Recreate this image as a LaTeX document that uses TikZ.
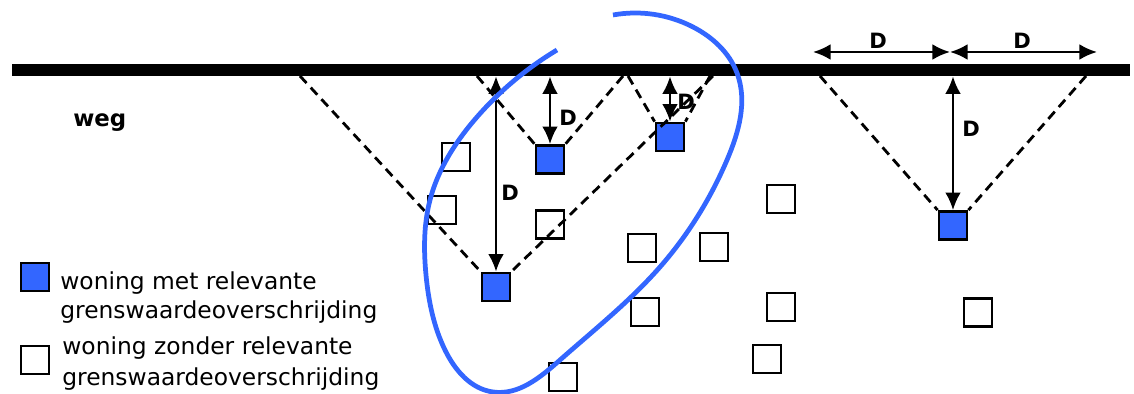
\documentclass[tikz,border=0pt]{standalone}
\usepackage{fontspec}
\setmainfont{DejaVu Sans}
\usetikzlibrary{positioning,arrows.meta,hobby}
\definecolor{houseblue}{RGB}{51,102,255}
\tikzstyle{house}=[draw,line width=1.6pt,minimum size=0.56cm,inner sep=0pt]
\tikzstyle{hit}=[house,fill=houseblue]
\tikzstyle{zone}=[dash pattern=on 5.5pt off 3.5pt,line width=1.6pt]
\tikzstyle{dist}=[<->,line width=1.4pt]
\tikzstyle{lab}=[font=\fontsize{12}{14}\selectfont\bfseries,inner sep=0pt]
\tikzstyle{keytext}=[font=\fontsize{13.3}{17}\selectfont,align=left,anchor=north west,inner sep=0pt]
\newcommand{\newHouse}[3]{\node[#3](#1) at (#2) {};}
\newcommand{\newZone}[3]{\coordinate (#1l) at (#2,76);
  \coordinate (#1r) at (#3,76);
  \draw[zone] (#1l) -- (#1.north west);
  \draw[zone] (#1r) -- (#1.north east);}
\newcommand{\newDist}[2]{\draw[dist] (road.south -| #1.north) -- (#1.north);
  \node[lab] (#1D) at (#2) {D};}

\begin{document}
\begin{tikzpicture}[x=0.02cm,y=-0.02cm,
      >={Latex[length=10pt,width=9pt]}
      ]
      \useasboundingbox (0,0) rectangle (1134,394);
      % de weg
      \node[fill=black,minimum width=22.36cm,minimum height=0.24cm,inner sep=0pt] (road) at (571,70) {};
      \node[font=\fontsize{13}{15}\selectfont\bfseries,anchor=base west,inner sep=0pt] (weg) at (73,127) {weg};
      % woningen met overschrijding
      \newHouse{hA}{496,287}{hit}
      \newHouse{hB}{550,159.5}{hit}
      \newHouse{hC}{670,137}{hit}
      \newHouse{hD}{953,225.5}{hit}
      % overige woningen
      \foreach \n/\p in {1/{456,157},2/{442,210},3/{550,224.5},4/{642,248},5/{714,247},
          6/{781,199},7/{645,312},8/{781,307},9/{767,359},10/{563,377},11/{978,312.5}}
        \node[house] (e\n) at (\p) {};
      % zones
      \newZone{hA}{300}{713}
      \newZone{hB}{477}{623}
      \newZone{hC}{628}{710}
      \newZone{hD}{820}{1086}
      % afstanden
      \newDist{hA}{510,193}
      \newDist{hB}{568,118}
      \newDist{hC}{686,102}
      \newDist{hD}{971,129}
      \coordinate (wl) at (813,52);
      \coordinate (wm) at (950,52);
      \coordinate (wr) at (1097,52);
      \draw[dist] (wl) -- (wm);
      \draw[dist] (wm) -- (wr);
      \node[lab] (wlD) at (878,41) {D};
      \node[lab] (wrD) at (1022,41) {D};
      % cluster
      \draw[houseblue,line width=2.7pt,use Hobby shortcut] (557,50) .. (477,117) .. (430,200)
        .. (426,275) .. (445,350) .. (493,392) .. (560,360) .. (660,267) .. (727,160)
        .. (737,73) .. (693,27) .. (613,15);
      % legenda
      \newHouse{key1}{35,277}{hit}
      \newHouse{key2}{35,360}{house}
      \node[keytext] (key1t) at (60,271) {woning met relevante\\grenswaardeoverschrijding};
      \node[keytext] (key2t) at (62,336) {woning zonder relevante\\[1pt]grenswaardeoverschrijding};
    \end{tikzpicture}
\end{document}
